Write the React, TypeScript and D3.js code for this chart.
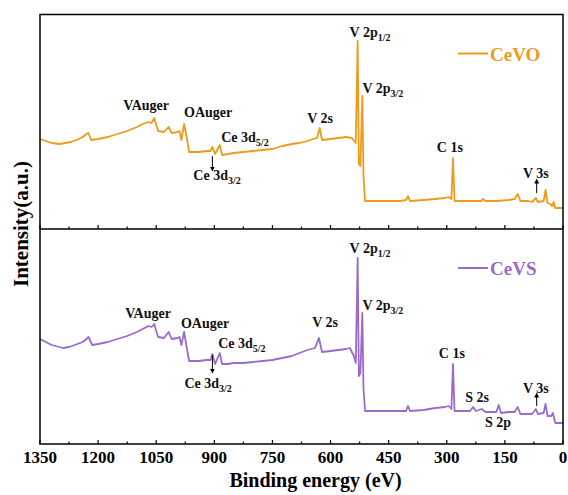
import React, { useEffect, useRef } from 'react';
import * as d3 from 'd3';

// XPS survey spectra, [binding energy (eV), intensity (a.u.)]
const cevoSpectrum: [number, number][] = [
  [1350, 90], [1335, 88], [1320, 86], [1300, 85], [1285, 86], [1270, 87], [1255, 89], [1240, 92],
  [1230, 95], [1225, 96], [1218, 89], [1200, 90], [1175, 92], [1150, 95], [1125, 98], [1100, 102],
  [1085, 105], [1070, 107], [1062, 106], [1055, 111], [1050, 104], [1045, 98], [1030, 97], [1018, 102],
  [1010, 96], [995, 97], [990, 98], [985, 89], [978, 105], [972, 93], [965, 77], [940, 77],
  [920, 78], [910, 78], [905, 82], [898, 75], [886, 84], [880, 74], [865, 75], [850, 76],
  [825, 77], [800, 78], [775, 79], [750, 80], [725, 83], [700, 85], [680, 86], [660, 88],
  [645, 90], [635, 91], [628, 101], [622, 89], [600, 90], [580, 91], [560, 92], [545, 91],
  [535, 86], [530, 188], [527, 65], [523, 63], [518, 133], [515, 53], [511, 28], [480, 28],
  [450, 28], [420, 28], [405, 29], [400, 33], [395, 28], [360, 29], [330, 30], [305, 31],
  [295, 32], [288, 30], [284, 71], [280, 28], [250, 28], [212, 28], [207, 30], [200, 28],
  [170, 28], [140, 29], [125, 30], [117, 35], [110, 28], [90, 28], [80, 27], [70, 31],
  [65, 27], [50, 28], [45, 39], [40, 26], [33, 25], [28, 23], [24, 27], [20, 21], [0, 21]
];

const cevsSpectrum: [number, number][] = [
  [1350, 105], [1335, 102], [1320, 99], [1300, 97], [1290, 96], [1275, 97], [1260, 99], [1240, 102],
  [1230, 105], [1225, 107], [1215, 99], [1200, 100], [1175, 102], [1150, 105], [1125, 108], [1100, 112],
  [1085, 115], [1070, 118], [1062, 117], [1055, 120], [1050, 113], [1045, 107], [1030, 106], [1018, 112],
  [1010, 105], [995, 106], [990, 107], [985, 99], [978, 112], [972, 98], [965, 83], [940, 83],
  [920, 84], [910, 84], [905, 90], [898, 80], [886, 91], [880, 80], [865, 80], [850, 81],
  [825, 81], [800, 82], [775, 83], [750, 84], [725, 86], [700, 88], [680, 91], [660, 94],
  [640, 96], [630, 106], [622, 92], [600, 93], [580, 94], [560, 95], [550, 96], [540, 88],
  [535, 81], [530, 186], [527, 68], [523, 71], [518, 131], [515, 55], [511, 33], [480, 33],
  [450, 33], [420, 33], [405, 33], [400, 38], [395, 33], [360, 34], [330, 36], [305, 37],
  [295, 38], [288, 35], [284, 80], [280, 33], [250, 33], [240, 33], [232, 37], [225, 33],
  [210, 35], [200, 32], [172, 32], [166, 39], [160, 31], [140, 32], [125, 32], [117, 37],
  [110, 30], [90, 30], [80, 30], [70, 35], [65, 30], [50, 31], [45, 40], [40, 28],
  [30, 28], [26, 31], [20, 21], [0, 21]
];

const energyTicks = [1350, 1200, 1050, 900, 750, 600, 450, 300, 150, 0];
const minorTicks = [1275, 1125, 975, 825, 675, 525, 375, 225, 75];

// peak labels: text, subscript, centre energy, baseline intensity
type Label = { text: string; sub?: string; ev: number; level: number };
const cevoLabels: Label[] = [
  { text: 'VAuger', ev: 1076, level: 119 },
  { text: 'OAuger', ev: 916, level: 112 },
  { text: 'Ce 3d', sub: '5/2', ev: 821, level: 87 },
  { text: 'Ce 3d', sub: '3/2', ev: 893, level: 49 },
  { text: 'V 2s', ev: 627, level: 106 },
  { text: 'V 2p', sub: '1/2', ev: 498, level: 192 },
  { text: 'V 2p', sub: '3/2', ev: 465, level: 136 },
  { text: 'C 1s', ev: 292, level: 77 },
  { text: 'V 3s', ev: 70, level: 51 }
];
const cevsLabels: Label[] = [
  { text: 'VAuger', ev: 1071, level: 126 },
  { text: 'OAuger', ev: 924, level: 116 },
  { text: 'Ce 3d', sub: '5/2', ev: 829, level: 96 },
  { text: 'Ce 3d', sub: '3/2', ev: 916, level: 56 },
  { text: 'V 2s', ev: 614, level: 117 },
  { text: 'V 2p', sub: '1/2', ev: 498, level: 191 },
  { text: 'V 2p', sub: '3/2', ev: 465, level: 134 },
  { text: 'C 1s', ev: 287, level: 86 },
  { text: 'S 2s', ev: 222, level: 42 },
  { text: 'S 2p', ev: 168, level: 17 },
  { text: 'V 3s', ev: 70, level: 51 }
];
// arrows: energy, from level, to level
const cevoArrows: [number, number, number][] = [[905, 73, 60], [68, 36, 48]];
const cevsArrows: [number, number, number][] = [[905, 89, 73], [68, 38, 49]];

const width = 568;
const height = 495;
const left = 40;
const right = 563;
const top = 14.5;
const mid = 229;
const bottom = 444;
const font = '"Times New Roman", "Liberation Serif", serif';

const App: React.FC = () => {
  const svgRef = useRef<SVGSVGElement>(null);

  useEffect(() => {
    const svg = d3.select(svgRef.current);
    svg.selectAll('*').remove();

    const x = d3.scaleLinear().domain([1350, 0]).range([left, right]);

    const panels = [
      { data: cevoSpectrum, labels: cevoLabels, arrows: cevoArrows, name: 'CeVO', color: '#EE9A1C', y0: top, y1: mid },
      { data: cevsSpectrum, labels: cevsLabels, arrows: cevsArrows, name: 'CeVS', color: '#9B6BCC', y0: mid, y1: bottom }
    ];

    const defs = svg.append('defs');
    defs.append('marker')
      .attr('id', 'arrow')
      .attr('viewBox', '0 0 6 6')
      .attr('refX', 3).attr('refY', 3)
      .attr('markerWidth', 5).attr('markerHeight', 5)
      .attr('orient', 'auto')
      .append('path')
      .attr('d', 'M0,0 L6,3 L0,6 Z')
      .attr('fill', '#000');

    panels.forEach(p => {
      const y = d3.scaleLinear().domain([0, p.y1 - p.y0]).range([p.y1, p.y0]);

      const line = d3.line<[number, number]>()
        .x(d => x(d[0]))
        .y(d => y(d[1]));

      svg.append('path')
        .datum(p.data)
        .attr('fill', 'none')
        .attr('stroke', p.color)
        .attr('stroke-width', 1.8)
        .attr('stroke-linejoin', 'round')
        .attr('d', line);

      // peak labels
      p.labels.forEach(l => {
        const t = svg.append('text')
          .attr('x', x(l.ev))
          .attr('y', y(l.level))
          .attr('text-anchor', 'middle')
          .style('font-family', font)
          .style('font-weight', 'bold')
          .style('font-size', '14px')
          .style('fill', '#111');
        t.append('tspan').text(l.text);
        if (l.sub) {
          t.append('tspan')
            .attr('dy', 4)
            .style('font-size', '10px')
            .text(l.sub);
        }
      });

      p.arrows.forEach(a => {
        svg.append('line')
          .attr('x1', x(a[0])).attr('x2', x(a[0]))
          .attr('y1', y(a[1])).attr('y2', y(a[2]))
          .attr('stroke', '#000')
          .attr('stroke-width', 1)
          .attr('marker-end', 'url(#arrow)');
      });

      // legend
      const ly = p.y0 + 39;
      svg.append('line')
        .attr('x1', 458).attr('x2', 488)
        .attr('y1', ly).attr('y2', ly)
        .attr('stroke', p.color)
        .attr('stroke-width', 2);
      svg.append('text')
        .attr('x', 490)
        .attr('y', ly + 7)
        .style('font-family', font)
        .style('font-weight', 'bold')
        .style('font-size', '19px')
        .style('fill', p.color)
        .text(p.name);

      // inward ticks on the lower edge of each panel
      svg.selectAll(null)
        .data(energyTicks)
        .enter()
        .append('line')
        .attr('x1', d => x(d)).attr('x2', d => x(d))
        .attr('y1', p.y1).attr('y2', p.y1 - 4)
        .attr('stroke', '#000')
        .attr('stroke-width', 1.2);
      svg.selectAll(null)
        .data(minorTicks)
        .enter()
        .append('line')
        .attr('x1', d => x(d)).attr('x2', d => x(d))
        .attr('y1', p.y1).attr('y2', p.y1 - 2.5)
        .attr('stroke', '#000')
        .attr('stroke-width', 1.2);
    });

    // frame and divider
    svg.append('rect')
      .attr('x', left).attr('y', top)
      .attr('width', right - left).attr('height', bottom - top)
      .attr('fill', 'none')
      .attr('stroke', '#000')
      .attr('stroke-width', 1.5);
    svg.append('line')
      .attr('x1', left).attr('x2', right)
      .attr('y1', mid).attr('y2', mid)
      .attr('stroke', '#000')
      .attr('stroke-width', 1.5);

    // x tick labels
    svg.selectAll(null)
      .data(energyTicks)
      .enter()
      .append('text')
      .attr('x', d => x(d))
      .attr('y', 463)
      .attr('text-anchor', 'middle')
      .style('font-family', font)
      .style('font-weight', 'bold')
      .style('font-size', '17px')
      .style('fill', '#000')
      .text(d => d);

    svg.append('text')
      .attr('x', (left + right) / 2 + 14)
      .attr('y', 487)
      .attr('text-anchor', 'middle')
      .style('font-family', font)
      .style('font-weight', 'bold')
      .style('font-size', '20px')
      .style('fill', '#000')
      .text('Binding energy (eV)');

    svg.append('text')
      .attr('transform', 'rotate(-90)')
      .attr('x', -224)
      .attr('y', 28)
      .attr('text-anchor', 'middle')
      .style('font-family', font)
      .style('font-weight', 'bold')
      .style('font-size', '21px')
      .style('fill', '#000')
      .text('Intensity(a.u.)');
  }, []);

  return (
    <svg
      ref={svgRef}
      width={width}
      height={height}
      style={{ position: 'absolute', left: 0, top: 0, background: '#fff' }}
    />
  );
};

export default App;
